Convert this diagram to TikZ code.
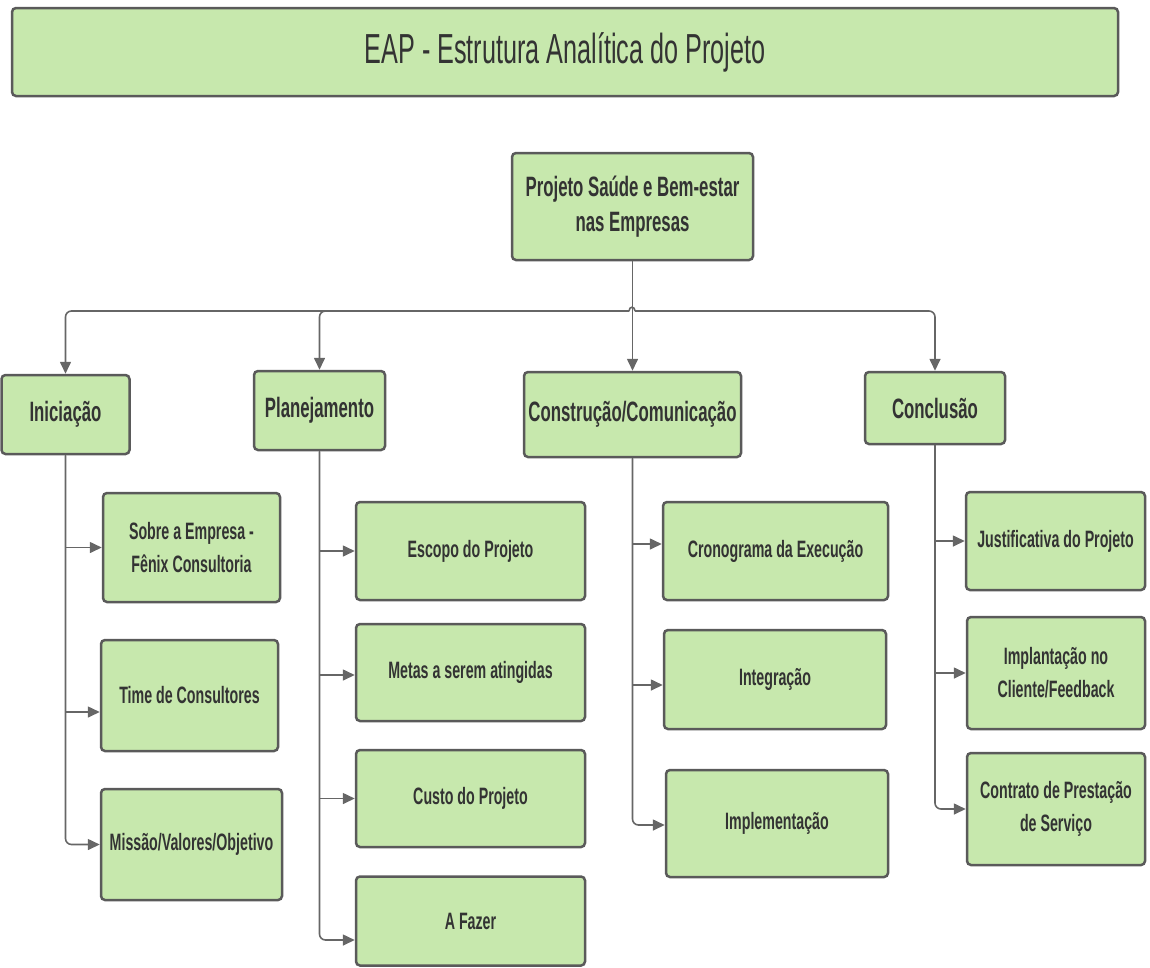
\documentclass[tikz,border=0pt]{standalone}
\usepackage{fontspec}
\setmainfont{Liberation Sans}[FakeStretch=0.6]
\usetikzlibrary{arrows.meta,calc}
\definecolor{boxfill}{HTML}{C7E8AD}
\definecolor{boxline}{HTML}{5A5A5A}
\definecolor{txt}{HTML}{333333}
\definecolor{conncol}{HTML}{666666}
\begin{document}
\begin{tikzpicture}[x=1pt,y=-1pt,
  box/.style={draw=boxline, fill=boxfill, line width=2.5pt, rounded corners=4pt, align=center, text=txt, inner sep=0pt},
  titlebox/.style={box, font=\fontsize{42}{50}\selectfont},
  cat/.style={box, font=\bfseries\fontsize{28}{35}\selectfont},
  leaf/.style={box, font=\bfseries\fontsize{23.7}{33}\selectfont},
  conn/.style={draw=conncol, line width=1.6pt, -{Triangle[length=12pt,width=11pt]}},
  link/.style={draw=conncol, line width=1.6pt}]
\useasboundingbox (0,0) rectangle (1150,967);

% title
\node[titlebox, minimum width=1106pt, minimum height=88pt] (title) at (565,52) {EAP - Estrutura Analítica do Projeto};

% root
\node[cat, minimum width=241pt, minimum height=107pt] (root) at (632.5,206.5) {Projeto Saúde e Bem-estar\\nas Empresas};

% categories
\node[cat, minimum width=128pt, minimum height=79pt] (ini) at (65.5,414.5) {Iniciação};
\node[cat, minimum width=131pt, minimum height=79pt] (plan) at (319.5,410.5) {Planejamento};
\node[cat, minimum width=217pt, minimum height=85pt] (cons) at (632.5,414.5) {Construção/Comunicação};
\node[cat, minimum width=140pt, minimum height=72pt] (concl) at (935,408) {Conclusão};

% leaves - Iniciação
\node[leaf, minimum width=177pt, minimum height=109pt] (sobre) at (191.5,547.5) {Sobre a Empresa -\\Fênix Consultoria};
\node[leaf, minimum width=177pt, minimum height=111pt] (time) at (189.5,695.5) {Time de Consultores};
\node[leaf, minimum width=181pt, minimum height=111pt] (missao) at (191.5,844.5) {Missão/Valores/Objetivo};

% leaves - Planejamento
\node[leaf, minimum width=229pt, minimum height=98pt] (escopo) at (470.5,551) {Escopo do Projeto};
\node[leaf, minimum width=229pt, minimum height=97pt] (metas) at (470.5,672.5) {Metas a serem atingidas};
\node[leaf, minimum width=229pt, minimum height=97pt] (custo) at (470.5,798.5) {Custo do Projeto};
\node[leaf, minimum width=229pt, minimum height=89pt] (afazer) at (470.5,921) {A Fazer};

% leaves - Construção
\node[leaf, minimum width=225pt, minimum height=98pt] (crono) at (775.5,551) {Cronograma da Execução};
\node[leaf, minimum width=222pt, minimum height=99pt] (integ) at (775,679.5) {Integração};
\node[leaf, minimum width=222pt, minimum height=107pt] (impl) at (777,823.5) {Implementação};

% leaves - Conclusão
\node[leaf, minimum width=179pt, minimum height=98pt] (justif) at (1055.5,541) {Justificativa do Projeto};
\node[leaf, minimum width=178pt, minimum height=112pt] (implant) at (1056,673) {Implantação no\\Cliente/Feedback};
\node[leaf, minimum width=178pt, minimum height=112pt] (contrato) at (1056,809) {Contrato de Prestação\\de Serviço};

% top bus
\coordinate (bus) at (632,311);
\draw[conn] (root.south) -- (cons.north);
\draw[conn, rounded corners=6pt] ($(bus)+(-3,0)$) -| (ini.north);
\draw[conn, rounded corners=6pt] ($(bus)+(-3,0)$) -| (plan.north);
\draw[conn, rounded corners=6pt] ($(bus)+(3,0)$) -| (concl.north);
\draw[link] ($(bus)+(-3,0)$) .. controls ($(bus)+(-3,-5)$) and ($(bus)+(3,-5)$) .. ($(bus)+(3,0)$);

% Iniciação children
\draw[conn] (ini.south) |- (sobre.west);
\draw[conn] (ini.south) |- ([yshift=-16.5pt]time.west);
\draw[conn, rounded corners=6pt] (ini.south) |- (missao.west);

% Planejamento children
\draw[conn] (plan.south) |- (escopo.west);
\draw[conn] (plan.south) |- ([yshift=-2.5pt]metas.west);
\draw[conn] (plan.south) |- (custo.west);
\draw[conn, rounded corners=6pt] (plan.south) |- ([yshift=-19pt]afazer.west);

% Construção children
\draw[conn] (cons.south) |- ([yshift=7pt]crono.west);
\draw[conn] (cons.south) |- ([yshift=-5.5pt]integ.west);
\draw[conn, rounded corners=6pt] (cons.south) |- ([yshift=-1.5pt]impl.west);

% Conclusão children
\draw[conn] (concl.south) |- (justif.west);
\draw[conn] (concl.south) |- (implant.west);
\draw[conn, rounded corners=6pt] (concl.south) |- (contrato.west);
\end{tikzpicture}
\end{document}
